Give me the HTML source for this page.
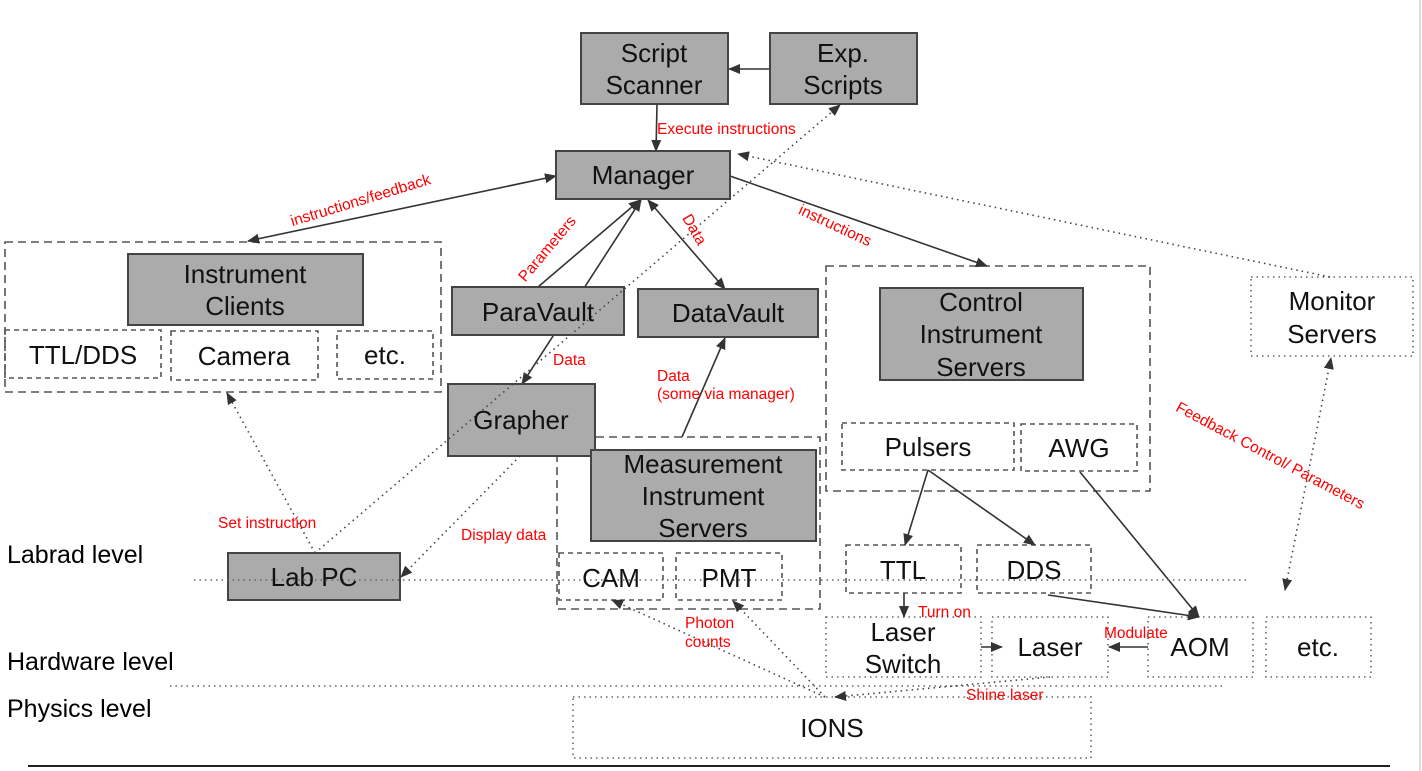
<!DOCTYPE html>
<html><head><meta charset="utf-8"><style>
html,body{margin:0;padding:0;background:#fff;width:1422px;height:771px;overflow:hidden}
svg{display:block}
.b{fill:#ababab;stroke:#444;stroke-width:2}
.d{fill:none;stroke:#555;stroke-width:1.6;stroke-dasharray:8 5}
.ds{fill:none;stroke:#555;stroke-width:1.6;stroke-dasharray:5 4}
.o{fill:none;stroke:#666;stroke-width:1.6;stroke-dasharray:1.5 4}
.t{font-family:"Liberation Sans","DejaVu Sans",sans-serif;font-size:26px;fill:#111;text-anchor:middle}
.r{font-family:"Liberation Sans",sans-serif;font-size:15.5px;fill:#f00}
.l{font-family:"Liberation Sans",sans-serif;font-size:25px;fill:#000}
.a{stroke:#333;stroke-width:1.6;fill:none}
.p{stroke:#444;stroke-width:1.6;fill:none;stroke-dasharray:1.5 4}
</style></head><body>
<svg width="1422" height="771" viewBox="0 0 1422 771" xmlns="http://www.w3.org/2000/svg">
<defs>
<marker id="m" markerWidth="12" markerHeight="10" refX="11" refY="5" orient="auto" markerUnits="userSpaceOnUse"><path d="M0,0 L12,5 L0,10 z" fill="#333"/></marker>
<marker id="ms" markerWidth="12" markerHeight="10" refX="1" refY="5" orient="auto" markerUnits="userSpaceOnUse"><path d="M12,0 L0,5 L12,10 z" fill="#333"/></marker>
</defs>
<line x1="1420" y1="0" x2="1420" y2="771" stroke="#ddd" stroke-width="2"/>
<line x1="28" y1="766" x2="1390" y2="766" stroke="#222" stroke-width="2"/>
<text class="l" x="7" y="563">Labrad level</text>
<text class="l" x="7" y="670">Hardware level</text>
<text class="l" x="7" y="717">Physics level</text>

<rect class="d" x="5" y="242" width="436" height="150"/>
<rect class="ds" x="5" y="330" width="156" height="48"/>
<rect class="ds" x="171" y="331" width="147" height="49"/>
<rect class="ds" x="337" y="331" width="96" height="48"/>
<rect class="d" x="826" y="266" width="324" height="225"/>
<rect class="ds" x="842" y="423" width="172" height="47"/>
<rect class="ds" x="1021" y="424" width="116" height="47"/>
<rect class="ds" x="846" y="545" width="115" height="48"/>
<rect class="ds" x="977" y="545" width="114" height="48"/>
<rect class="d" x="557" y="437" width="263" height="172"/>
<rect class="ds" x="559" y="553" width="104" height="47"/>
<rect class="ds" x="676" y="553" width="106" height="47"/>
<rect class="o" x="1251" y="277" width="162" height="79"/>
<rect class="o" x="826" y="617" width="155" height="60"/>
<rect class="o" x="992" y="617" width="116" height="60"/>
<rect class="o" x="1148" y="617" width="105" height="60"/>
<rect class="o" x="1266" y="617" width="105" height="60"/>
<rect class="o" x="573" y="697" width="518" height="61"/>

<line class="a" x1="770" y1="69" x2="729" y2="69" marker-end="url(#m)"/>
<line class="a" x1="657" y1="104" x2="656" y2="151" marker-end="url(#m)"/>
<line class="a" x1="248" y1="241" x2="556" y2="176" marker-start="url(#ms)" marker-end="url(#m)"/>
<line class="a" x1="730" y1="176" x2="987" y2="266" marker-end="url(#m)"/>
<line class="a" x1="538" y1="287" x2="640" y2="200" marker-end="url(#m)"/>
<line class="a" x1="522" y1="384" x2="641" y2="200" marker-start="url(#ms)" marker-end="url(#m)"/>
<line class="a" x1="648" y1="200" x2="725" y2="289" marker-start="url(#ms)" marker-end="url(#m)"/>
<line class="a" x1="682" y1="437" x2="725" y2="338" marker-end="url(#m)"/>
<line class="a" x1="928" y1="470" x2="905" y2="545" marker-end="url(#m)"/>
<line class="a" x1="928" y1="470" x2="1035" y2="545" marker-end="url(#m)"/>
<line class="a" x1="1080" y1="472" x2="1199" y2="617" marker-end="url(#m)"/>
<line class="a" x1="1048" y1="595" x2="1199" y2="617" marker-end="url(#m)"/>
<line class="a" x1="904" y1="593" x2="904" y2="617" marker-end="url(#m)"/>
<line class="a" x1="981" y1="647" x2="1002" y2="647" marker-end="url(#m)"/>
<line class="a" x1="1148" y1="647" x2="1109" y2="647" marker-end="url(#m)"/>

<rect class="b" x="581" y="33" width="147" height="71"/>
<rect class="b" x="770" y="33" width="147" height="71"/>
<rect class="b" x="556" y="151" width="174" height="48"/>
<rect class="b" x="128" y="254" width="235" height="71"/>
<rect class="b" x="452" y="287" width="172" height="48"/>
<rect class="b" x="638" y="289" width="180" height="48"/>
<rect class="b" x="880" y="288" width="203" height="92"/>
<rect class="b" x="448" y="384" width="147" height="72"/>
<rect class="b" x="591" y="450" width="225" height="91"/>
<rect class="b" x="228" y="553" width="172" height="47"/>

<line x1="194" y1="580" x2="1250" y2="580" class="o"/>
<line x1="170" y1="686" x2="1225" y2="686" class="o"/>
<line class="p" x1="315" y1="553" x2="840" y2="105" marker-end="url(#m)"/>
<line class="p" x1="315" y1="553" x2="227" y2="393" marker-end="url(#m)"/>
<line class="p" x1="520" y1="456" x2="401" y2="577" marker-end="url(#m)"/>
<line class="p" x1="1330" y1="277" x2="738" y2="154" marker-end="url(#m)"/>
<line class="p" x1="1285" y1="590" x2="1331" y2="358" marker-start="url(#ms)" marker-end="url(#m)"/>
<line class="p" x1="825" y1="697" x2="612" y2="600" marker-end="url(#m)"/>
<line class="p" x1="825" y1="697" x2="733" y2="601" marker-end="url(#m)"/>
<line class="p" x1="1050" y1="677" x2="835" y2="697" marker-end="url(#m)"/>

<text class="t" x="654" y="62">Script</text><text class="t" x="654" y="94">Scanner</text>
<text class="t" x="843" y="62">Exp.</text><text class="t" x="843" y="94">Scripts</text>
<text class="t" x="643" y="184">Manager</text>
<text class="t" x="245" y="283">Instrument</text><text class="t" x="245" y="315">Clients</text>
<text class="t" x="538" y="321">ParaVault</text>
<text class="t" x="728" y="322">DataVault</text>
<text class="t" x="981" y="311">Control</text><text class="t" x="981" y="343">Instrument</text><text class="t" x="981" y="376">Servers</text>
<text class="t" x="521" y="429">Grapher</text>
<text class="t" x="703" y="473">Measurement</text><text class="t" x="703" y="505">Instrument</text><text class="t" x="703" y="537">Servers</text>
<text class="t" x="314" y="586">Lab PC</text>
<text class="t" x="83" y="364">TTL/DDS</text>
<text class="t" x="244" y="365">Camera</text>
<text class="t" x="385" y="364">etc.</text>
<text class="t" x="928" y="456">Pulsers</text>
<text class="t" x="1079" y="457">AWG</text>
<text class="t" x="903" y="579">TTL</text>
<text class="t" x="1034" y="579">DDS</text>
<text class="t" x="611" y="587">CAM</text>
<text class="t" x="729" y="587">PMT</text>
<text class="t" x="1332" y="310">Monitor</text><text class="t" x="1332" y="343">Servers</text>
<text class="t" x="903" y="641">Laser</text><text class="t" x="903" y="673">Switch</text>
<text class="t" x="1050" y="656">Laser</text>
<text class="t" x="1200" y="656">AOM</text>
<text class="t" x="1318" y="656">etc.</text>
<text class="t" x="832" y="737">IONS</text>

<text class="r" x="657" y="134">Execute instructions</text>
<text class="r" x="362" y="205" text-anchor="middle" transform="rotate(-17 362 205)">instructions/feedback</text>
<text class="r" x="833" y="230" text-anchor="middle" transform="rotate(25 833 230)">instructions</text>
<text class="r" x="551" y="252" text-anchor="middle" transform="rotate(-50 551 252)">Parameters</text>
<text class="r" x="690" y="232" text-anchor="middle" transform="rotate(60 690 232)">Data</text>
<text class="r" x="553" y="365">Data</text>
<text class="r" x="657" y="381">Data</text>
<text class="r" x="657" y="399">(some via manager)</text>
<text class="r" x="218" y="528">Set instruction</text>
<text class="r" x="461" y="540">Display data</text>
<text class="r" x="685" y="628">Photon</text>
<text class="r" x="685" y="647">counts</text>
<text class="r" x="918" y="617">Turn on</text>
<text class="r" x="1104" y="638">Modulate</text>
<text class="r" x="966" y="700">Shine laser</text>
<text class="r" x="1268" y="460" text-anchor="middle" transform="rotate(28 1268 460)">Feedback Control/ Parameters</text>
</svg>
</body></html>
